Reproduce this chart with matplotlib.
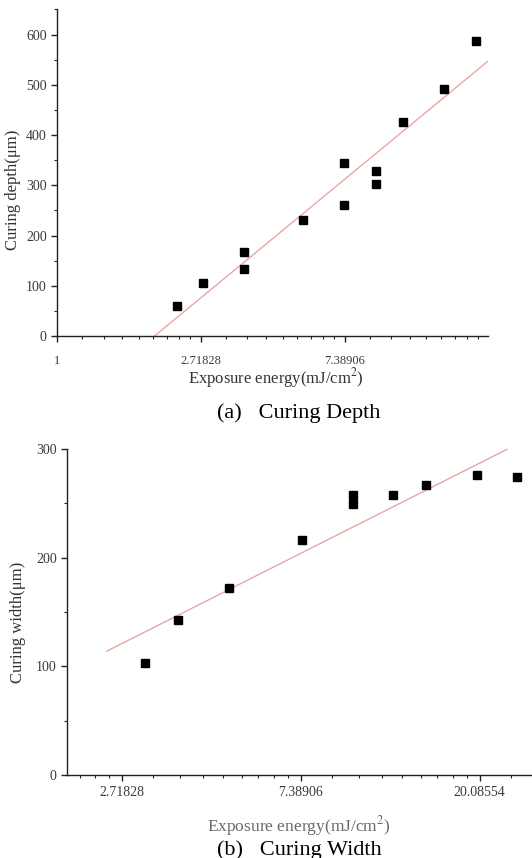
import matplotlib
matplotlib.use('Agg')
import matplotlib.pyplot as plt
import numpy as np
from matplotlib.ticker import FixedLocator, FixedFormatter, MultipleLocator, NullFormatter

plt.rcParams['font.family'] = ['Liberation Serif', 'DejaVu Serif']
plt.rcParams['mathtext.fontset'] = 'stix'

# (a) curing depth
depth_x = [2.30, 2.76, 3.68, 3.68, 5.52, 7.36, 7.36, 9.20, 9.20, 11.04, 14.72, 18.40]
depth_y = [59, 106, 168, 133, 231, 345, 261, 328, 302, 425, 491, 588]
depth_fit_x = [1.97, 20.0]
depth_fit_y = [0, 547]
depth_ticks = [1, np.e, np.e ** 2]
depth_ticklabels = ['1', '2.71828', '7.38906']

# (b) curing width
width_x = [3.10, 3.72, 4.96, 7.44, 9.92, 9.92, 12.40, 14.88, 19.84, 24.80]
width_y = [103, 143, 172, 216, 258, 249, 258, 267, 276, 274]
width_fit_x = [2.50, 23.5]
width_fit_y = [114, 300]
width_ticks = [np.e, np.e ** 2, np.e ** 3]
width_ticklabels = ['2.71828', '7.38906', '20.08554']

# minor ticks: 8 evenly spaced values inside each e-decade (like Origin's ln axis)
minor_ticks = [np.e ** k * (1 + j * (np.e - 1) / 9) for k in range(-1, 4) for j in range(1, 9)]

W, H = 532, 858
fig = plt.figure(figsize=(W / 100, H / 100), dpi=100)

axis_col = '#222222'
label_col = '#3a3a3a'
fit_col = '#eaa6a6'


def style_axis(ax, ticks, ticklabels, ylim, xsize, xpad):
    ax.set_xscale('log', base=np.e)
    ax.xaxis.set_major_locator(FixedLocator(ticks))
    ax.xaxis.set_major_formatter(FixedFormatter(ticklabels))
    ax.xaxis.set_minor_locator(FixedLocator(minor_ticks))
    ax.xaxis.set_minor_formatter(NullFormatter())
    ax.set_ylim(*ylim)
    ax.yaxis.set_major_locator(MultipleLocator(100))
    ax.yaxis.set_minor_locator(MultipleLocator(50))
    for s in ['top', 'right']:
        ax.spines[s].set_visible(False)
    for s in ['left', 'bottom']:
        ax.spines[s].set_color(axis_col)
        ax.spines[s].set_linewidth(1.0)
    ax.tick_params(axis='x', which='major', direction='out', length=4, width=1,
                   color=axis_col, labelsize=xsize, labelcolor=label_col, pad=xpad)
    ax.tick_params(axis='x', which='minor', direction='out', length=2.5, width=0.8, color=axis_col)
    ax.tick_params(axis='y', which='major', direction='out', length=4.3, width=1,
                   color=axis_col, labelsize=10, labelcolor=label_col, pad=3)
    ax.tick_params(axis='y', which='minor', direction='out', length=2.2, width=0.8, color=axis_col)


# top panel
ax1 = fig.add_axes([57 / W, (H - 336) / H, 431 / W, 326.6 / H])
ax1.plot(depth_fit_x, depth_fit_y, '-', color=fit_col, lw=1.0)
ax1.plot(depth_x, depth_y, 's', color='black', markersize=6)
ax1.set_xlim(1, 20.0)
style_axis(ax1, depth_ticks, depth_ticklabels, (0, 650), 9, 10)
ax1.set_xlabel('Exposure energy(mJ/cm$^2$)', fontsize=12, color='#333333')
ax1.set_ylabel('Curing depth(\u03bcm)', fontsize=12, color='#333333')
ax1.xaxis.set_label_coords(0.507, -0.092)
ax1.yaxis.set_label_coords(-0.0835, 0.447)

# bottom panel
ax2 = fig.add_axes([67 / W, (H - 775) / H, 472 / W, 326 / H])
ax2.plot(width_fit_x, width_fit_y, '-', color=fit_col, lw=1.0)
ax2.plot(width_x, width_y, 's', color='black', markersize=6)
ax2.set_xlim(2.0, 28.0)
style_axis(ax2, width_ticks, width_ticklabels, (0, 300), 10, 3.6)
ax2.set_xlabel('Exposure energy(mJ/cm$^2$)', fontsize=12.5, color='#6a6a6a')
ax2.set_ylabel('Curing width(\u03bcm)', fontsize=12, color='#333333')
ax2.xaxis.set_label_coords(0.49, -0.12)
ax2.yaxis.set_label_coords(-0.087, 0.469)

# captions
fig.text(299 / W, 1 - 418 / H, '(a)   Curing Depth', fontsize=16, ha='center', va='baseline')
fig.text(299 / W, 1 - 855 / H, '(b)   Curing Width', fontsize=16, ha='center', va='baseline')

fig.savefig('out.png', dpi=100)
